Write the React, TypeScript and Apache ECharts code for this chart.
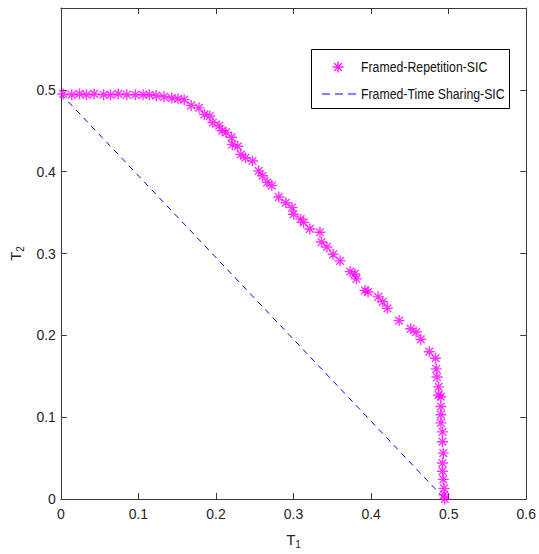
import React, { useEffect, useRef } from "react";
import * as echarts from "echarts";

const repX = [0.003, 0.014, 0.024, 0.033, 0.043, 0.055, 0.064, 0.074, 0.085, 0.096, 0.106, 0.114, 0.123, 0.133, 0.143, 0.151, 0.159, 0.168, 0.178, 0.185, 0.192, 0.196, 0.204, 0.208, 0.213, 0.220, 0.221, 0.228, 0.232, 0.238, 0.247, 0.255, 0.260, 0.266, 0.272, 0.281, 0.290, 0.298, 0.300, 0.309, 0.313, 0.321, 0.334, 0.336, 0.343, 0.351, 0.360, 0.373, 0.379, 0.381, 0.392, 0.396, 0.409, 0.415, 0.421, 0.436, 0.451, 0.458, 0.464, 0.475, 0.483, 0.484, 0.485, 0.487, 0.487, 0.490, 0.490, 0.490, 0.490, 0.492, 0.492, 0.493, 0.492, 0.492, 0.493, 0.494, 0.494, 0.495];
const repY = [0.495, 0.494, 0.495, 0.494, 0.495, 0.494, 0.494, 0.495, 0.494, 0.494, 0.494, 0.494, 0.493, 0.4915, 0.490, 0.489, 0.488, 0.481, 0.478, 0.470, 0.468, 0.460, 0.456, 0.450, 0.448, 0.442, 0.433, 0.431, 0.421, 0.417, 0.413, 0.401, 0.395, 0.387, 0.383, 0.369, 0.362, 0.356, 0.348, 0.342, 0.338, 0.330, 0.326, 0.314, 0.308, 0.299, 0.291, 0.278, 0.275, 0.269, 0.255, 0.253, 0.247, 0.241, 0.233, 0.218, 0.208, 0.204, 0.195, 0.180, 0.172, 0.159, 0.149, 0.137, 0.127, 0.125, 0.113, 0.103, 0.093, 0.082, 0.070, 0.056, 0.044, 0.034, 0.024, 0.013, 0.005, 0.0];
const tsX = [0, 0.495];
const tsY = [0.495, 0];

const seriesNames = ["Framed-Repetition-SIC", "Framed-Time Sharing-SIC"];

const xTicks = { min: 0, max: 0.6, interval: 0.1 };
const yTicks = { min: 0, max: 0.6, interval: 0.1 };

const FONT = '"Liberation Sans", Arial, sans-serif';
const ASTERISK = "path://M5,0L5,10M0,5L10,5M1.5,1.5L8.5,8.5M1.5,8.5L8.5,1.5";
const MAGENTA = "#ff00ff";

export default function App() {
  const ref = useRef<HTMLDivElement>(null);
  useEffect(() => {
    if (!ref.current) return;
    const chart = echarts.init(ref.current, null, { renderer: "svg" });
    const axisColor = "#3a3a3a";
    const labelColor = "#262626";
    const fmt = (v: number) => (v === 0 ? "0" : String(Math.round(v * 10) / 10));
    const star = (cx: number, cy: number, r: number) => {
      const d = r * 0.7;
      const ls = { stroke: MAGENTA, lineWidth: 1.3 };
      return [
        { type: "line", z: 101, shape: { x1: cx, y1: cy - r, x2: cx, y2: cy + r }, style: ls },
        { type: "line", z: 101, shape: { x1: cx - r, y1: cy, x2: cx + r, y2: cy }, style: ls },
        { type: "line", z: 101, shape: { x1: cx - d, y1: cy - d, x2: cx + d, y2: cy + d }, style: ls },
        { type: "line", z: 101, shape: { x1: cx - d, y1: cy + d, x2: cx + d, y2: cy - d }, style: ls },
      ];
    };
    chart.setOption({
      animation: false,
      backgroundColor: "#ffffff",
      textStyle: { fontFamily: FONT },
      grid: { left: 60, right: 9, top: 8, bottom: 51, containLabel: false },
      graphic: [
        {
          type: "rect",
          shape: { x: 311.5, y: 49.5, width: 198, height: 59 },
          style: { fill: "#fff", stroke: "#000", lineWidth: 1 },
          z: 100,
        },
        ...star(338, 67, 5.5),
        {
          type: "text",
          x: 361,
          y: 67,
          scaleX: 0.82,
          style: { text: seriesNames[0], fontFamily: FONT, fontSize: 15, fill: "#111", textVerticalAlign: "middle", verticalAlign: "middle" },
          z: 101,
        },
        {
          type: "line",
          shape: { x1: 322, y1: 94, x2: 358, y2: 94 },
          style: { stroke: "#0000ff", lineWidth: 1, lineDash: [8, 5] },
          z: 101,
        },
        {
          type: "text",
          x: 361,
          y: 94,
          scaleX: 0.82,
          style: { text: seriesNames[1], fontFamily: FONT, fontSize: 15, fill: "#111", textVerticalAlign: "middle", verticalAlign: "middle" },
          z: 101,
        },
      ],
      xAxis: [
        {
          type: "value",
          ...xTicks,
          position: "bottom",
          name: "{a|T}{b|1}",
          nameLocation: "middle",
          nameGap: 30,
          nameTextStyle: {
            rich: {
              a: { fontSize: 15, color: labelColor, fontFamily: FONT },
              b: { fontSize: 10, color: labelColor, fontFamily: FONT, padding: [10, 0, 0, 0] },
            },
          },
          axisLine: { show: true, onZero: false, lineStyle: { color: axisColor, width: 1 } },
          axisTick: { show: true, inside: true, length: 6, lineStyle: { color: axisColor } },
          axisLabel: { color: labelColor, fontSize: 14, fontFamily: FONT, margin: 8, formatter: fmt },
          splitLine: { show: false },
        },
        {
          type: "value",
          ...xTicks,
          position: "top",
          axisLine: { show: true, onZero: false, lineStyle: { color: axisColor, width: 1 } },
          axisTick: { show: true, inside: true, length: 6, lineStyle: { color: axisColor } },
          axisLabel: { show: false },
          splitLine: { show: false },
        },
      ],
      yAxis: [
        {
          type: "value",
          ...yTicks,
          position: "left",
          name: "{a|T}{b|2}",
          nameLocation: "middle",
          nameGap: 34,
          nameRotate: 90,
          nameTextStyle: {
            rich: {
              a: { fontSize: 15, color: labelColor, fontFamily: FONT },
              b: { fontSize: 10, color: labelColor, fontFamily: FONT, padding: [10, 0, 0, 0] },
            },
          },
          axisLine: { show: true, onZero: false, lineStyle: { color: axisColor, width: 1 } },
          axisTick: { show: true, inside: true, length: 6, lineStyle: { color: axisColor } },
          axisLabel: { color: labelColor, fontSize: 14, fontFamily: FONT, margin: 5, showMaxLabel: false, formatter: fmt },
          splitLine: { show: false },
        },
        {
          type: "value",
          ...yTicks,
          position: "right",
          axisLine: { show: true, onZero: false, lineStyle: { color: axisColor, width: 1 } },
          axisTick: { show: true, inside: true, length: 6, lineStyle: { color: axisColor } },
          axisLabel: { show: false },
          splitLine: { show: false },
        },
      ],
      series: [
        {
          name: seriesNames[0],
          type: "scatter",
          xAxisIndex: 0,
          yAxisIndex: 0,
          symbol: ASTERISK,
          symbolSize: 11,
          itemStyle: { color: "rgba(0,0,0,0)", borderColor: MAGENTA, borderWidth: 1.4 },
          data: repX.map((x, i) => [x, repY[i]]),
          z: 3,
        },
        {
          name: seriesNames[1],
          type: "line",
          xAxisIndex: 0,
          yAxisIndex: 0,
          symbol: "none",
          showSymbol: false,
          lineStyle: { color: "#0000ff", width: 1, type: [6, 5] },
          itemStyle: { color: "#0000ff" },
          data: tsX.map((x, i) => [x, tsY[i]]),
          z: 2,
        },
      ],
    });
    return () => chart.dispose();
  }, []);
  return (
    <div
      ref={ref}
      style={{ position: "fixed", left: 0, top: 0, width: 539, height: 554, background: "#fff" }}
    />
  );
}
